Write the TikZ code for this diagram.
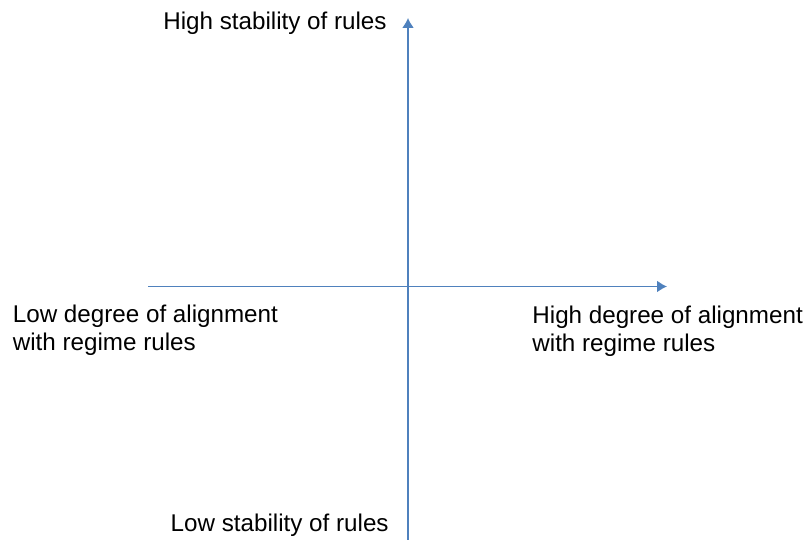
\documentclass[tikz,border=0pt]{standalone}
\usepackage{fontspec}
\setmainfont{Liberation Sans}
\usetikzlibrary{arrows.meta}
\definecolor{axisblue}{RGB}{79,129,189}
\tikzset{axisline/.style = {draw=axisblue, line width=0.8pt}}
\tikzset{axislabel/.style = {inner sep=0pt, font=\fontsize{12.1}{14}\selectfont, align=left}}

\begin{document}
\begin{tikzpicture}[x=0.5pt, y=0.5pt, >={Latex[length=5pt, width=6pt]}]
  \useasboundingbox (0,0) rectangle (808,540);

  % axis end points
  \coordinate (west) at (148,253.5);
  \coordinate (east) at (667,253.5);
  \coordinate (south) at (408,0);
  \coordinate (north) at (408,522);

  \draw [axisline, ->] (west) -- (east);
  \draw [axisline, ->] (south) -- (north);

  \node [axislabel, anchor=base east] (highstab) at (387,510) {High stability of rules};
  \node [axislabel, anchor=base east] (lowstab) at (389,8.3) {Low stability of rules};
  % base anchor sits on the last line
  \node [axislabel, anchor=base west] (lowalign) at (12.5,189) {Low degree of alignment\\with regime rules};
  \node [axislabel, anchor=base west] (highalign) at (532,188) {High degree of alignment\\with regime rules};
\end{tikzpicture}
\end{document}
